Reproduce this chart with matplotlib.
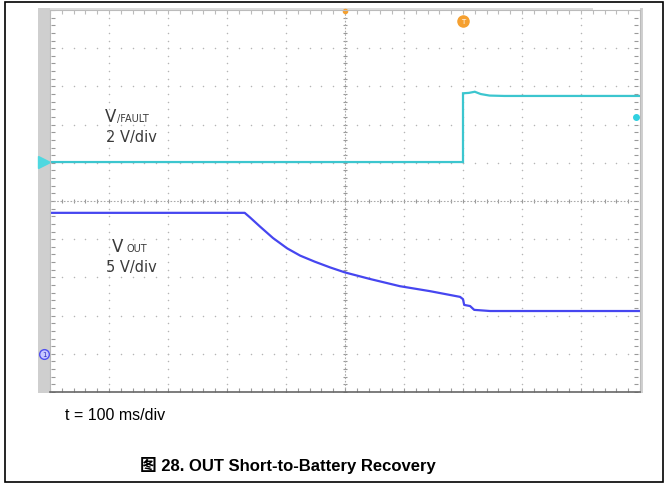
import matplotlib.pyplot as plt
import numpy as np
from matplotlib.patches import Rectangle

# ----------------------------------------------------------------------------------------
# 波形数据 (横轴: div, 纵轴: div, 从屏幕底部算起)
vfault_t = [0.0, 7.0, 7.0, 7.1, 7.2, 7.3, 7.45, 7.7, 10.0]
vfault_v = [6.02, 6.02, 7.82, 7.83, 7.86, 7.80, 7.76, 7.75, 7.75]

vout_t = [0.0, 3.3, 3.39, 3.56, 3.78, 4.02, 4.24, 4.49, 4.75, 5.0, 5.42, 5.93, 6.44, 6.95,
          7.0, 7.02, 7.12, 7.19, 7.46, 10.0]
vout_v = [4.69, 4.69, 4.57, 4.33, 4.03, 3.76, 3.57, 3.41, 3.26, 3.13, 2.96, 2.77, 2.64, 2.49,
          2.43, 2.28, 2.25, 2.15, 2.12, 2.12]

# 文字
vfault_label = 'V'
vfault_sub = '/FAULT'
vfault_scale = '2 V/div'
vout_label = 'V'
vout_sub = 'OUT'
vout_scale = '5 V/div'
time_label = 't = 100 ms/div'
caption = '图 28. OUT Short-to-Battery Recovery'
# ----------------------------------------------------------------------------------------

W, H = 670, 485


def fx(px):
    return px / W


def fy(py):
    return 1 - py / H


fig = plt.figure(figsize=(6.7, 4.85), dpi=100)

# 外框
fig.patches.append(Rectangle((fx(5), fy(483)), fx(663) - fx(5), fy(3) - fy(483),
                             transform=fig.transFigure, fill=False, edgecolor='black', lw=1.2,
                             zorder=-1))
# 示波器灰色边条
fig.patches.append(Rectangle((fx(38), fy(394)), fx(12), fy(9) - fy(394),
                             transform=fig.transFigure, facecolor='#cfcfcf', edgecolor='none',
                             zorder=-1))
fig.patches.append(Rectangle((fx(50), fy(12)), fx(593) - fx(50), fy(9) - fy(12),
                             transform=fig.transFigure, facecolor='#dcdcdc', edgecolor='none',
                             zorder=-1))
fig.patches.append(Rectangle((fx(640), fy(394)), fx(3), fy(9) - fy(394),
                             transform=fig.transFigure, facecolor='#d0d0d0', edgecolor='none',
                             zorder=-1))

ax = fig.add_axes([fx(50), fy(393), fx(640) - fx(50), fy(11) - fy(393)])
ax.set_xlim(0, 10)
ax.set_ylim(0, 10)
ax.set_xticks([])
ax.set_yticks([])
for side in ['left', 'top', 'right']:
    ax.spines[side].set_color('#bbbbbb')
ax.spines['bottom'].set_color('#666666')
ax.spines['bottom'].set_linewidth(1.2)

# 网格点
minor = np.arange(0, 10.01, 0.2)
for i in range(1, 10):
    if i == 5:
        continue
    ax.scatter(np.full(len(minor), i), minor, s=1.2, color='#b5b5b5', lw=0)
    ax.scatter(minor, np.full(len(minor), i), s=1.2, color='#b5b5b5', lw=0)
# 中心十字线
ax.plot([0, 10], [5, 5], color='#aaaaaa', lw=0.8, ls=(0, (1.5, 1.5)))
ax.plot([5, 5], [0, 10], color='#aaaaaa', lw=0.8, ls=(0, (1.5, 1.5)))
ax.scatter(minor, np.full(len(minor), 5), marker='|', s=10, color='#999999', lw=0.8)
ax.scatter(np.full(len(minor), 5), minor, marker='_', s=10, color='#999999', lw=0.8)
# 边缘刻度
ax.scatter(minor, np.full(len(minor), 0.05), marker='|', s=10, color='#999999', lw=0.8)
ax.scatter(minor, np.full(len(minor), 9.95), marker='|', s=10, color='#bbbbbb', lw=0.8)
ax.scatter(np.full(len(minor), 0.05), minor, marker='_', s=10, color='#999999', lw=0.8)
ax.scatter(np.full(len(minor), 9.93), minor, marker='_', s=10, color='#999999', lw=0.8)

# 波形
ax.plot(vfault_t, vfault_v, color='#3cc6cf', lw=1.6, solid_joinstyle='miter')
ax.plot(vout_t, vout_v, color='#4646f0', lw=1.6)

# 通道标记
ax.plot(-0.1, vfault_v[0], marker='>', ms=8, color='#4fd8e0', clip_on=False)
ax.plot(-0.1, 1.0, marker='o', ms=7, mfc='#c8c8ff', mec='#5050f0', clip_on=False)
ax.text(-0.1, 1.0, '1', fontsize=5, ha='center', va='center', color='#3030c0', clip_on=False)
ax.plot(9.93, 7.2, marker='o', ms=4, color='#30d0e0', clip_on=False)
# 触发标记
ax.plot(7.0, 9.7, marker='o', ms=8, color='#f5a030', clip_on=False)
ax.text(7.0, 9.7, 'T', fontsize=5, ha='center', va='center', color='white')
ax.plot(5.0, 9.98, marker='o', ms=3, color='#f5a030', clip_on=False)

# 示波器内文字
scope_font = dict(family='DejaVu Sans', color='#3a3a3a')
fig.text(fx(105), fy(122), vfault_label, fontsize=12, va='baseline', **scope_font)
fig.text(fx(117), fy(122), vfault_sub, fontsize=7, va='baseline', **scope_font)
fig.text(fx(106), fy(142), vfault_scale, fontsize=10.5, va='baseline', **scope_font)
fig.text(fx(112), fy(252), vout_label, fontsize=12, va='baseline', **scope_font)
fig.text(fx(127), fy(252), vout_sub, fontsize=7, va='baseline', **scope_font)
fig.text(fx(106), fy(272), vout_scale, fontsize=10.5, va='baseline', **scope_font)

# 下方文字
fig.text(fx(65), fy(420), time_label, fontsize=11.5, va='baseline', family='Liberation Sans')
fig.text(fx(288), fy(471), caption, fontsize=12, fontweight='bold', ha='center', va='baseline',
         family=['Liberation Sans', 'Noto Sans CJK SC'])

plt.savefig('out.png', dpi=100)
